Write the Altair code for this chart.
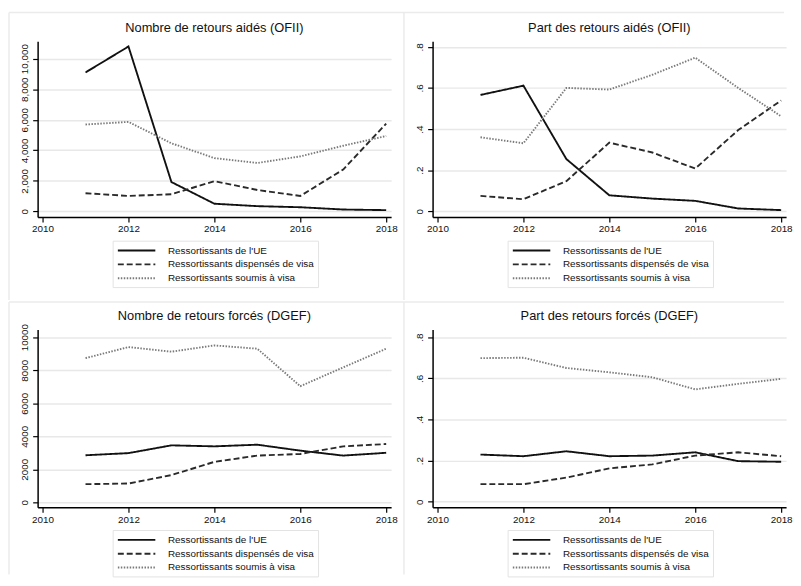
import altair as alt
import pandas as pd

years = [2011, 2012, 2013, 2014, 2015, 2016, 2017, 2018]
series = ["Ressortissants de l'UE", "Ressortissants dispensés de visa", "Ressortissants soumis à visa"]

titles = ["Nombre de retours aidés (OFII)", "Part des retours aidés (OFII)",
          "Nombre de retours forcés (DGEF)", "Part des retours forcés (DGEF)"]

# Nombre de retours aidés (OFII)
aides_n_ue = [9100, 10800, 1920, 500, 340, 270, 120, 80]
aides_n_disp = [1190, 1010, 1120, 1980, 1400, 1010, 2740, 5750]
aides_n_soum = [5690, 5860, 4460, 3490, 3170, 3600, 4300, 4935]

# Part des retours aidés (OFII)
aides_p_ue = [0.566, 0.611, 0.254, 0.078, 0.062, 0.051, 0.014, 0.006]
aides_p_disp = [0.075, 0.059, 0.147, 0.334, 0.286, 0.208, 0.395, 0.539]
aides_p_soum = [0.360, 0.331, 0.600, 0.592, 0.664, 0.747, 0.600, 0.462]

# Nombre de retours forcés (DGEF)
forces_n_ue = [2850, 2980, 3450, 3390, 3490, 3130, 2830, 3000]
forces_n_disp = [1100, 1140, 1650, 2450, 2830, 2930, 3390, 3530]
forces_n_soum = [8730, 9400, 9120, 9500, 9300, 7030, 8170, 9300]

# Part des retours forcés (DGEF)
forces_p_ue = [0.229, 0.221, 0.245, 0.221, 0.224, 0.240, 0.197, 0.194]
forces_p_disp = [0.085, 0.085, 0.117, 0.162, 0.181, 0.224, 0.240, 0.221]
forces_p_soum = [0.698, 0.700, 0.650, 0.629, 0.605, 0.546, 0.573, 0.597]

x_ticks = [2010, 2012, 2014, 2016, 2018]
count_ticks = [0, 2000, 4000, 6000, 8000, 10000]
share_ticks = [0, 0.2, 0.4, 0.6, 0.8]

colors = ["#111111", "#2a2a2a", "#7a7a7a"]
dashes = [[1, 0], [6, 3], [1.5, 1.5]]
FONT = "Liberation Sans"
W = 358


def frame(left_len, top_len, top):
    d = pd.DataFrame({"k": [0]})
    v = alt.Chart(d).mark_rule(color="#ebebeb", strokeWidth=1.5).encode(
        x=alt.value(-29), y=alt.value(top), y2=alt.value(left_len))
    h = alt.Chart(d).mark_rule(color="#ebebeb", strokeWidth=1.5).encode(
        x=alt.value(-29), x2=alt.value(top_len), y=alt.value(top))
    return v + h


def panel(title, vals, ydomain, yticks, label_expr, H, legend_y, top, left_len, top_len):
    rows = []
    for s, arr in zip(series, vals):
        for yr, v in zip(years, arr):
            rows.append({"year": yr, "value": v, "series": s})
    df = pd.DataFrame(rows)
    leg = alt.Legend(title=None, orient="none", legendX=76, legendY=legend_y,
                     direction="vertical", symbolType="M-1,0H7", symbolSize=90,
                     symbolStrokeWidth=2, labelFontSize=10, labelFont=FONT,
                     labelColor="#111", padding=4, rowPadding=3, labelOffset=40,
                     strokeColor="#e3e3e3", fillColor="white", labelLimit=0)
    lines = alt.Chart(df).mark_line(strokeWidth=1.9).encode(
        x=alt.X("year:Q", scale=alt.Scale(domain=[2009.885, 2018.115], nice=False, zero=False),
                axis=alt.Axis(values=x_ticks, format="d", title=None, grid=False,
                              tickSize=5, labelPadding=2)),
        y=alt.Y("value:Q", scale=alt.Scale(domain=ydomain, nice=False, zero=False),
                axis=alt.Axis(values=yticks, labelExpr=label_expr, title=None, grid=True,
                              labelAngle=270, labelAlign="center", labelBaseline="bottom",
                              tickSize=5, labelPadding=3)),
        color=alt.Color("series:N", scale=alt.Scale(domain=series, range=colors), legend=leg),
        strokeDash=alt.StrokeDash("series:N", scale=alt.Scale(domain=series, range=dashes), legend=leg),
    )
    return alt.layer(frame(left_len, top_len, top), lines).properties(
        width=W, height=H,
        title=alt.TitleParams(title, fontSize=13, font=FONT, fontWeight="normal",
                              color="#111", offset=top + 6, anchor="middle", frame="group"))


count_a = "format(datum.value, ',')"
count_b = "format(datum.value, 'd')"
share = "datum.value == 0 ? '0' : '.' + format(datum.value * 10, '.0f')"

p1 = panel(titles[0], [aides_n_ue, aides_n_disp, aides_n_soum], [-369, 11145],
           count_ticks, count_a, 178, 202, -29, 262, 371)
p2 = panel(titles[1], [aides_p_ue, aides_p_disp, aides_p_soum], [-0.0274, 0.827],
           share_ticks, share, 178, 202, -29, 262, 356)
p3 = panel(titles[2], [forces_n_ue, forces_n_disp, forces_n_soum], [-299, 10460],
           count_ticks, count_b, 180, 203, -28, 248, 371)
p4 = panel(titles[3], [forces_p_ue, forces_p_disp, forces_p_soum], [-0.0274, 0.837],
           share_ticks, share, 180, 203, -28, 248, 356)

res = dict(x="independent", y="independent", color="independent", strokeDash="independent")

chart = alt.concat(p1, p2, p3, p4, columns=2, bounds="flush",
                   spacing={"row": 114, "column": 42}).resolve_scale(**res).resolve_legend(
    color="independent", strokeDash="independent"
).properties(
    padding={"left": 0, "top": 0, "right": 0, "bottom": 0}
).configure_view(stroke=None).configure_axis(
    labelFont=FONT, labelFontSize=10, labelColor="#111",
    domainColor="#000", domainWidth=1.5, tickColor="#000", tickWidth=1.2,
    gridColor="#e8e8e8", gridWidth=1.5
)

chart.save("out.html", embed_options={"renderer": "svg", "actions": False})
